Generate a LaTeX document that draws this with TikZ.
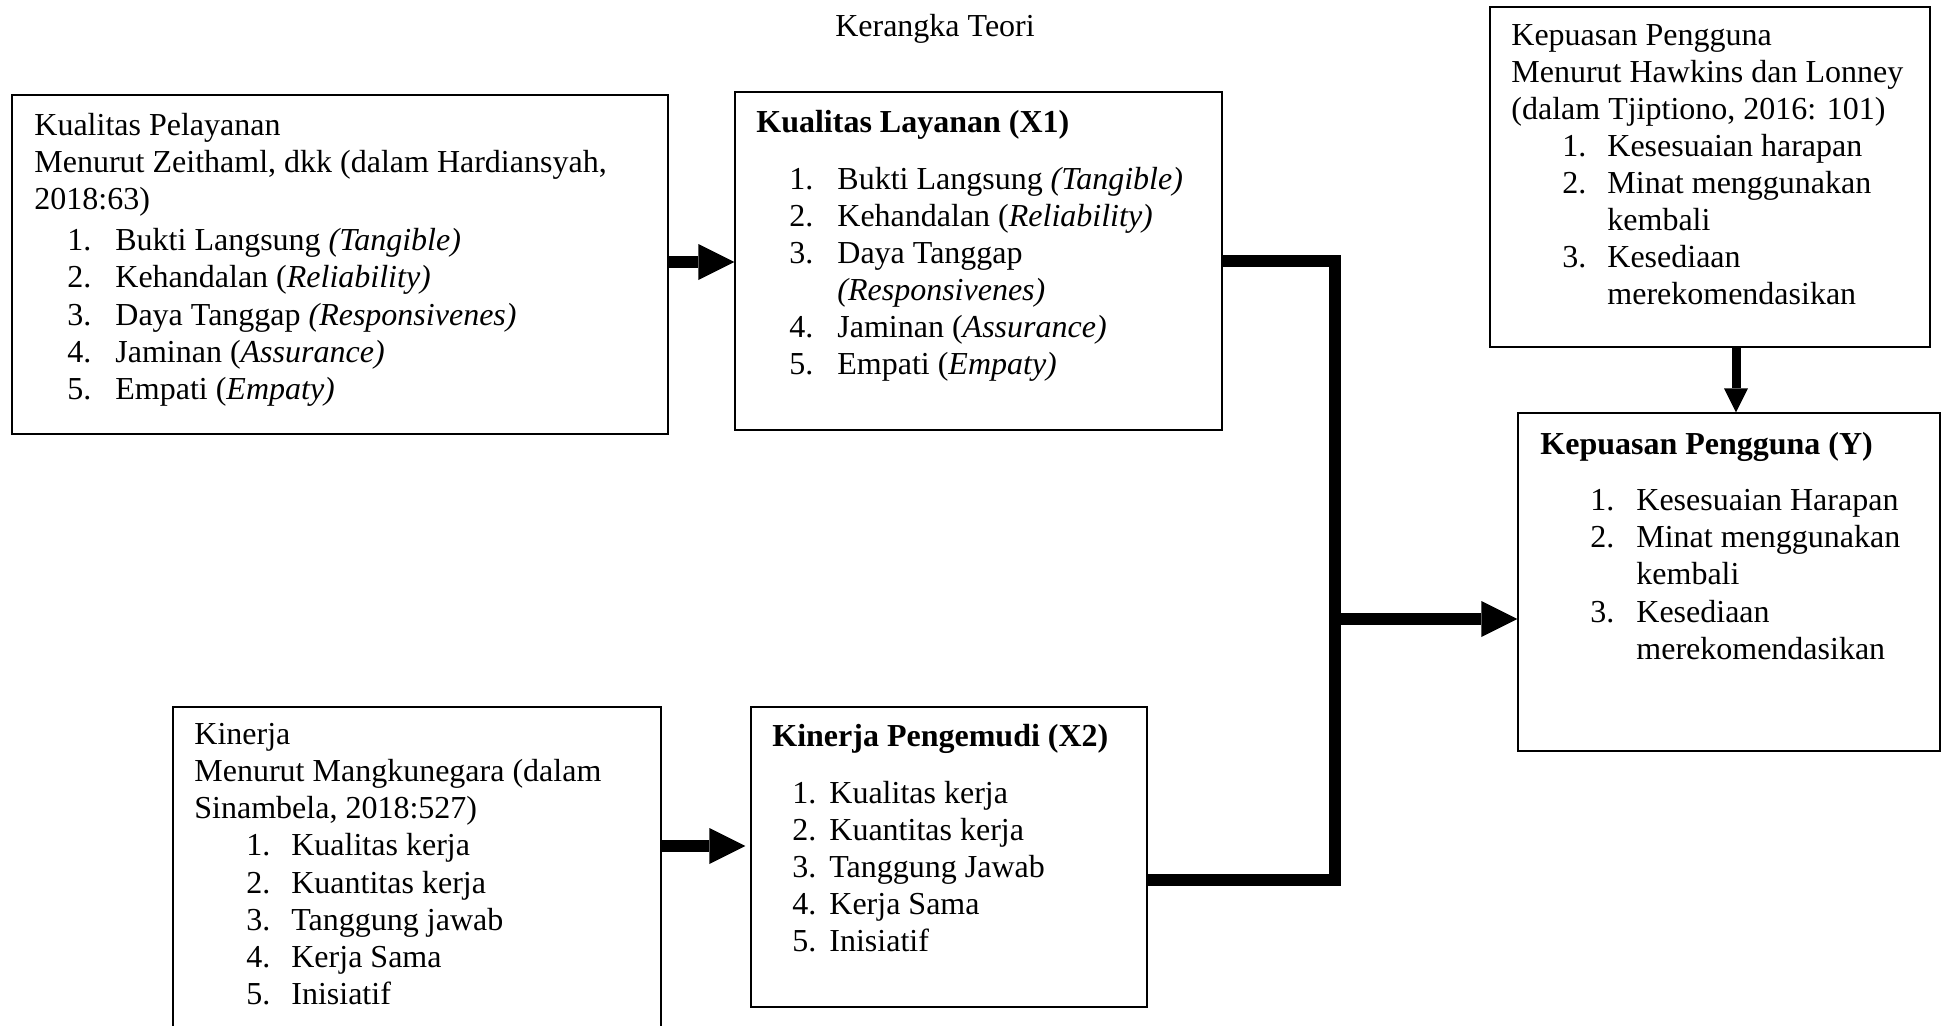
\documentclass[tikz,border=0pt]{standalone}
\usepackage{fontspec}
\setmainfont{Liberation Serif}
\usetikzlibrary{arrows.meta,calc,fit}
\newlength\pxu
\setlength\pxu{0.5pt}
\newcommand\nitem[4]{\hspace*{#1\pxu}\makebox[#2\pxu][l]{#3}#4}
\newcommand\contl[1]{\hspace*{#1\pxu}}
\begin{document}
\begin{tikzpicture}[x=0.5pt,y=-0.5pt,
  box/.style={draw, line width=0.6pt, inner sep=0pt},
  txt/.style={anchor=base west, inner sep=0pt, font=\fontsize{16pt}{18.55pt}\selectfont},
  conn/.style={line width=6.25pt, line join=miter},
  thinconn/.style={line width=4.5pt},
  bighead/.style={-{Triangle[length=18pt,width=18pt,line width=0pt]}},
  smallhead/.style={-{Triangle[length=12pt,width=12pt,line width=0pt]}}]
\useasboundingbox (0,0) rectangle (1955,1025);
\fill[white] (0,0) rectangle (1955,1025);

% title
\node[anchor=base, inner sep=0pt, font=\fontsize{16pt}{18.55pt}\selectfont] (title) at (935,36) {Kerangka Teori};

% boxes
\node[box, fit={(12,95) (668,434)}] (A) {};
\node[box, fit={(735,92) (1222,430)}] (B) {};
\node[box, fit={(1490,7) (1930,347)}] (C) {};
\node[box, fit={(1518,413) (1940,751)}] (D) {};
\node[box, fit={(173,707) (661,1045)}] (E) {};
\node[box, fit={(751,707) (1147,1007)}] (F) {};

% texts
\node[txt] (At) at (34,135) {\begin{tabular}[t]{@{}l@{}}
Kualitas Pelayanan\\
Menurut Zeithaml, dkk (dalam Hardiansyah,\\
2018:63)\\[2.25pt]
\nitem{33}{48}{1.}{Bukti Langsung \textit{(Tangible)}}\\
\nitem{33}{48}{2.}{Kehandalan (\textit{Reliability)}}\\
\nitem{33}{48}{3.}{Daya Tanggap \textit{(Responsivenes)}}\\
\nitem{33}{48}{4.}{Jaminan (\textit{Assurance)}}\\
\nitem{33}{48}{5.}{Empati (\textit{Empaty)}}
\end{tabular}};

\node[txt] (Bt) at (756,132.5) {\begin{tabular}[t]{@{}l@{}}
\textbf{Kualitas Layanan (X1)}\\[9.8pt]
\nitem{33}{48}{1.}{Bukti Langsung \textit{(Tangible)}}\\
\nitem{33}{48}{2.}{Kehandalan (\textit{Reliability)}}\\
\nitem{33}{48}{3.}{Daya Tanggap}\\
\contl{81}\textit{(Responsivenes)}\\
\nitem{33}{48}{4.}{Jaminan (\textit{Assurance)}}\\
\nitem{33}{48}{5.}{Empati (\textit{Empaty)}}
\end{tabular}};

\node[txt] (Ct) at (1511,45) {\begin{tabular}[t]{@{}l@{}}
Kepuasan Pengguna\\
Menurut Hawkins dan Lonney\\
(dalam Tjiptiono, 2016: 101)\\
\nitem{51}{45}{1.}{Kesesuaian harapan}\\
\nitem{51}{45}{2.}{Minat menggunakan}\\
\contl{96}kembali\\
\nitem{51}{45}{3.}{Kesediaan}\\
\contl{96}merekomendasikan
\end{tabular}};

\node[txt] (Dt) at (1540,454) {\begin{tabular}[t]{@{}l@{}}
\textbf{Kepuasan Pengguna (Y)}\\[9.8pt]
\nitem{50}{46}{1.}{Kesesuaian Harapan}\\
\nitem{50}{46}{2.}{Minat menggunakan}\\
\contl{96}kembali\\
\nitem{50}{46}{3.}{Kesediaan}\\
\contl{96}merekomendasikan
\end{tabular}};

\node[txt] (Et) at (194,744.6) {\begin{tabular}[t]{@{}l@{}}
Kinerja\\
Menurut Mangkunegara (dalam\\
Sinambela, 2018:527)\\
\nitem{52}{45}{1.}{Kualitas kerja}\\
\nitem{52}{45}{2.}{Kuantitas kerja}\\
\nitem{52}{45}{3.}{Tanggung jawab}\\
\nitem{52}{45}{4.}{Kerja Sama}\\
\nitem{52}{45}{5.}{Inisiatif}
\end{tabular}};

\node[txt] (Ft) at (772,746.5) {\begin{tabular}[t]{@{}l@{}}
\textbf{Kinerja Pengemudi (X2)}\\[9.8pt]
\nitem{20}{37}{1.}{Kualitas kerja}\\
\nitem{20}{37}{2.}{Kuantitas kerja}\\
\nitem{20}{37}{3.}{Tanggung Jawab}\\
\nitem{20}{37}{4.}{Kerja Sama}\\
\nitem{20}{37}{5.}{Inisiatif}
\end{tabular}};

% connectors
\coordinate (ab) at ($(A.east)+(0,-2.5)$);
\draw[conn, bighead] (ab) -- (ab -| B.west);

\coordinate (ef) at ($(F.west)+(0,-11)$);
\draw[conn, bighead] (ef -| E.east) -- ($(ef)+(-5,0)$);

\coordinate (j) at (1335,263);
\coordinate (fx) at ($(F.east)+(0,23)$);
\draw[conn] (B.east) -- (B.east -| j) -- (j |- fx) -- (fx);

\coordinate (dy) at ($(D.west)+(0,37)$);
\draw[conn, bighead] ($(j |- dy)+(-6,0)$) -- (dy);

\draw[thinconn, smallhead] ($(D.north |- C.south)+(7,0)$) -- ($(D.north)+(7,0)$);
\end{tikzpicture}
\end{document}
